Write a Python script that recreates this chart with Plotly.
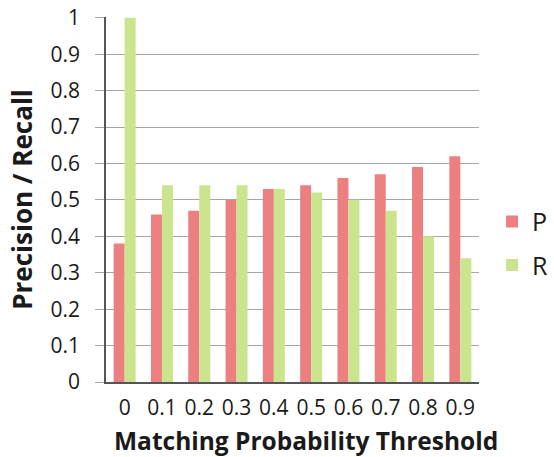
import plotly.graph_objects as go

categories = ["0", "0.1", "0.2", "0.3", "0.4", "0.5", "0.6", "0.7", "0.8", "0.9"]
precision = [0.38, 0.46, 0.47, 0.50, 0.53, 0.54, 0.56, 0.57, 0.59, 0.62]
recall = [1.00, 0.54, 0.54, 0.54, 0.53, 0.52, 0.50, 0.47, 0.40, 0.34]
y_ticks = [0, 0.1, 0.2, 0.3, 0.4, 0.5, 0.6, 0.7, 0.8, 0.9, 1]
y_tick_text = ["0", "0.1", "0.2", "0.3", "0.4", "0.5", "0.6", "0.7", "0.8", "0.9", "1"]
x_title = "Matching Probability Threshold"
y_title = "Precision / Recall"

FONT = "'Open Sans', sans-serif"

fig = go.Figure()
fig.add_trace(go.Bar(x=categories, y=precision, name="P", legendgroup="P",
                     marker=dict(color="#ec8080", line=dict(width=0))))
fig.add_trace(go.Bar(x=categories, y=recall, name="R", legendgroup="R",
                     marker=dict(color="#cbe58f", line=dict(width=0))))

fig.update_layout(
    width=554, height=457,
    margin=dict(l=106, r=75, t=17, b=75, autoexpand=False),
    paper_bgcolor="white", plot_bgcolor="white",
    barmode="group", bargap=0.41, bargroupgap=0,
    font=dict(family=FONT, color="#1a1a1a", size=21),
    legend=dict(x=1.035, y=0.38, xanchor="left", yanchor="middle",
                font=dict(size=25), tracegroupgap=8, traceorder="grouped"),
    xaxis=dict(showline=True, linecolor="#555555", linewidth=1.5,
               ticks="", ticklabelstandoff=6, automargin=False),
    yaxis=dict(range=[0, 1.002], tickvals=y_ticks, ticktext=y_tick_text,
               showline=True, linecolor="#555555", linewidth=1.5,
               showgrid=True, gridcolor="#a6a6a6", gridwidth=1.2,
               ticks="outside", ticklen=9, tickcolor="#a6a6a6",
               ticklabelstandoff=11, ticklabeloverflow="allow",
               zeroline=False, automargin=False,
               title=dict(text="<b>" + y_title + "</b>",
                          font=dict(size=26), standoff=10)),
    annotations=[dict(text="<b>" + x_title + "</b>", xref="paper", yref="paper",
                      x=0.535, y=-0.16, xanchor="center", yanchor="middle",
                      showarrow=False, font=dict(size=24.5, family=FONT, color="#1a1a1a"))],
)

# remove the default page margin so the figure fills the window exactly
fig.write_html("out.html", config={"displayModeBar": False},
               post_script="document.body.style.margin='0';")
